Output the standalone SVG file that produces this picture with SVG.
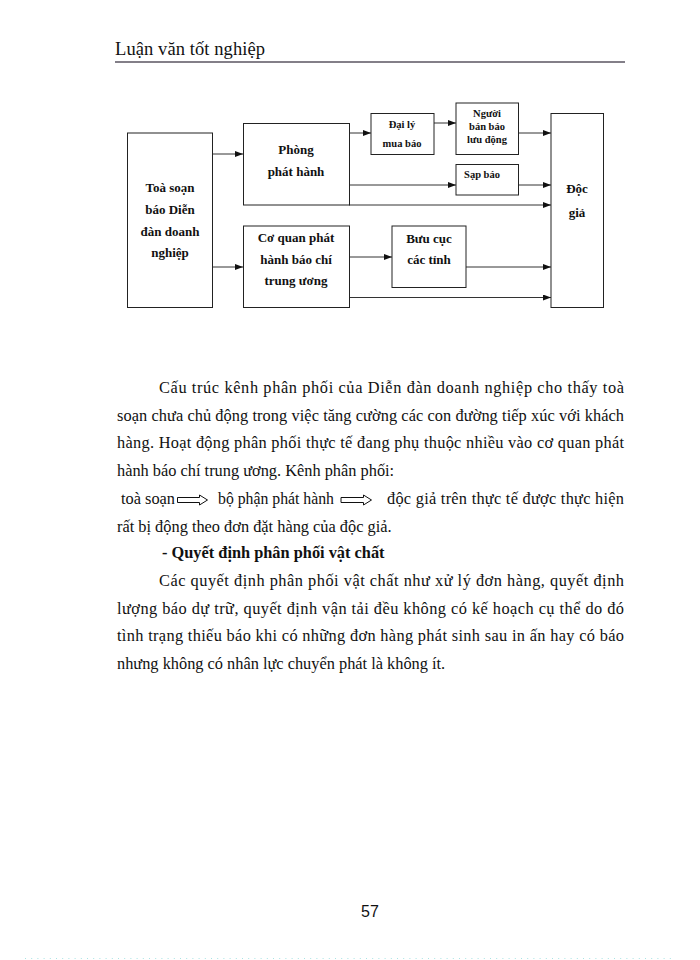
<svg xmlns="http://www.w3.org/2000/svg" width="700" height="960" viewBox="0 0 700 960">
<style>
.box{fill:#fff;stroke:#222;stroke-width:1}
.conn{stroke:#333;stroke-width:1;fill:none;marker-end:url(#ah)}
.nt{font-family:"Liberation Serif","Times New Roman",serif;font-weight:bold;font-size:13px;text-anchor:middle;fill:#111}
.ns{font-size:10.5px}
.body{font-family:"Liberation Serif","Times New Roman",serif;font-size:16.35px;fill:#111}
</style>
<defs>
<marker id="ah" markerUnits="userSpaceOnUse" markerWidth="8" markerHeight="6" refX="8" refY="3" orient="auto">
<path d="M0,0 L8,3 L0,6 z" fill="#111"/>
</marker>
</defs>
<rect width="700" height="960" fill="#fff"/>

<text x="115" y="55" font-family="Liberation Serif, Times New Roman, serif" font-size="18.5" fill="#111" textLength="150" lengthAdjust="spacing">Luận văn tốt nghiệp</text>
<line x1="115" y1="62" x2="625" y2="62" stroke="#5a5560" stroke-width="1.5"/>

<g id="connectors">
<line class="conn" x1="212" y1="154" x2="243" y2="154"/>
<line class="conn" x1="212" y1="267" x2="243" y2="267"/>
<line class="conn" x1="349" y1="133" x2="371" y2="133"/>
<line class="conn" x1="434" y1="123" x2="456" y2="123"/>
<line class="conn" x1="518" y1="133" x2="551" y2="133"/>
<line class="conn" x1="349" y1="185" x2="456" y2="185"/>
<line class="conn" x1="518" y1="185" x2="551" y2="185"/>
<line class="conn" x1="349" y1="205" x2="551" y2="205"/>
<line class="conn" x1="349" y1="257" x2="392" y2="257"/>
<line class="conn" x1="466" y1="267" x2="551" y2="267"/>
<line class="conn" x1="349" y1="297.5" x2="551" y2="297.5"/>
</g>

<g id="toa-soan">
<rect class="box" x="127.5" y="133" width="85" height="174.5"/>
<text class="nt" x="170" y="192">Toà soạn</text>
<text class="nt" x="170" y="214">báo Diễn</text>
<text class="nt" x="170" y="236">đàn doanh</text>
<text class="nt" x="170" y="257">nghiệp</text>
</g>
<g id="phong-phat-hanh">
<rect class="box" x="243.5" y="123.5" width="106" height="81.5"/>
<text class="nt" x="296" y="154">Phòng</text>
<text class="nt" x="296" y="176">phát hành</text>
</g>
<g id="co-quan">
<rect class="box" x="243.5" y="226" width="106" height="81.5"/>
<text class="nt" x="296" y="242">Cơ quan phát</text>
<text class="nt" x="296" y="264">hành báo chí</text>
<text class="nt" x="296" y="285">trung ương</text>
</g>
<g id="dai-ly">
<rect class="box" x="371" y="113.5" width="63" height="41"/>
<text class="nt ns" x="402" y="128">Đại lý</text>
<text class="nt ns" x="402" y="147">mua báo</text>
</g>
<g id="nguoi-ban-bao">
<rect class="box" x="456" y="103" width="62.5" height="51.5"/>
<text class="nt ns" x="487" y="117">Người</text>
<text class="nt ns" x="487" y="130">bán báo</text>
<text class="nt ns" x="487" y="143">lưu động</text>
</g>
<g id="sap-bao">
<rect class="box" x="456" y="164.5" width="62.5" height="30.5"/>
<text class="nt ns" x="482" y="178">Sạp báo</text>
</g>
<g id="buu-cuc">
<rect class="box" x="392" y="226" width="74" height="61.5"/>
<text class="nt" x="429" y="243">Bưu cục</text>
<text class="nt" x="429" y="264">các tỉnh</text>
</g>
<g id="doc-gia">
<rect class="box" x="551" y="113.5" width="52.5" height="194"/>
<text class="nt" x="577" y="193" font-size="13.5">Độc</text>
<text class="nt" x="577" y="217" font-size="13.5">giả</text>
</g>

<g class="body">
<text x="159" y="393" textLength="465" lengthAdjust="spacing">Cấu trúc kênh phân phối của Diễn đàn doanh nghiệp cho thấy toà</text>
<text x="117" y="420.5" textLength="507" lengthAdjust="spacing">soạn chưa chủ động trong việc tăng cường các con đường tiếp xúc với khách</text>
<text x="117" y="448" textLength="507" lengthAdjust="spacing">hàng. Hoạt động phân phối thực tế đang phụ thuộc nhiều vào cơ quan phát</text>
<text x="117" y="476">hành báo chí trung ương. Kênh phân phối:</text>
<text x="121" y="504">toà soạn</text>
<text x="218" y="504" textLength="116" lengthAdjust="spacingAndGlyphs">bộ phận phát hành</text>
<text x="387" y="504" textLength="237" lengthAdjust="spacing">độc giả trên thực tế được thực hiện</text>
<text x="117" y="531.5">rất bị động theo đơn đặt hàng của độc giả.</text>
<text x="162" y="558" font-weight="bold">- Quyết định phân phối vật chất</text>
<text x="159" y="586" textLength="465" lengthAdjust="spacing">Các quyết định phân phối vật chất như xử lý đơn hàng, quyết định</text>
<text x="117" y="613.5" textLength="507" lengthAdjust="spacing">lượng báo dự trữ, quyết định vận tải đều không có kế hoạch cụ thể do đó</text>
<text x="117" y="641" textLength="507" lengthAdjust="spacing">tình trạng thiếu báo khi có những đơn hàng phát sinh sau in ấn hay có báo</text>
<text x="117" y="668.5">nhưng không có nhân lực chuyển phát là không ít.</text>
</g>

<g fill="#fff" stroke="#111" stroke-width="1">
<path d="M177.5,497.5 H199.5 V495 L207.5,500 L199.5,505 V502.5 H177.5 Z"/>
<path d="M341,497.5 H363.5 V495 L371.5,500 L363.5,505 V502.5 H341 Z"/>
</g>

<text x="370" y="917" text-anchor="middle" font-family="Liberation Sans, Arial, sans-serif" font-size="16" fill="#111">57</text>
<line x1="25" y1="958.5" x2="675" y2="958.5" stroke="#a8e4e4" stroke-width="1" stroke-dasharray="1 5.2"/>
</svg>
